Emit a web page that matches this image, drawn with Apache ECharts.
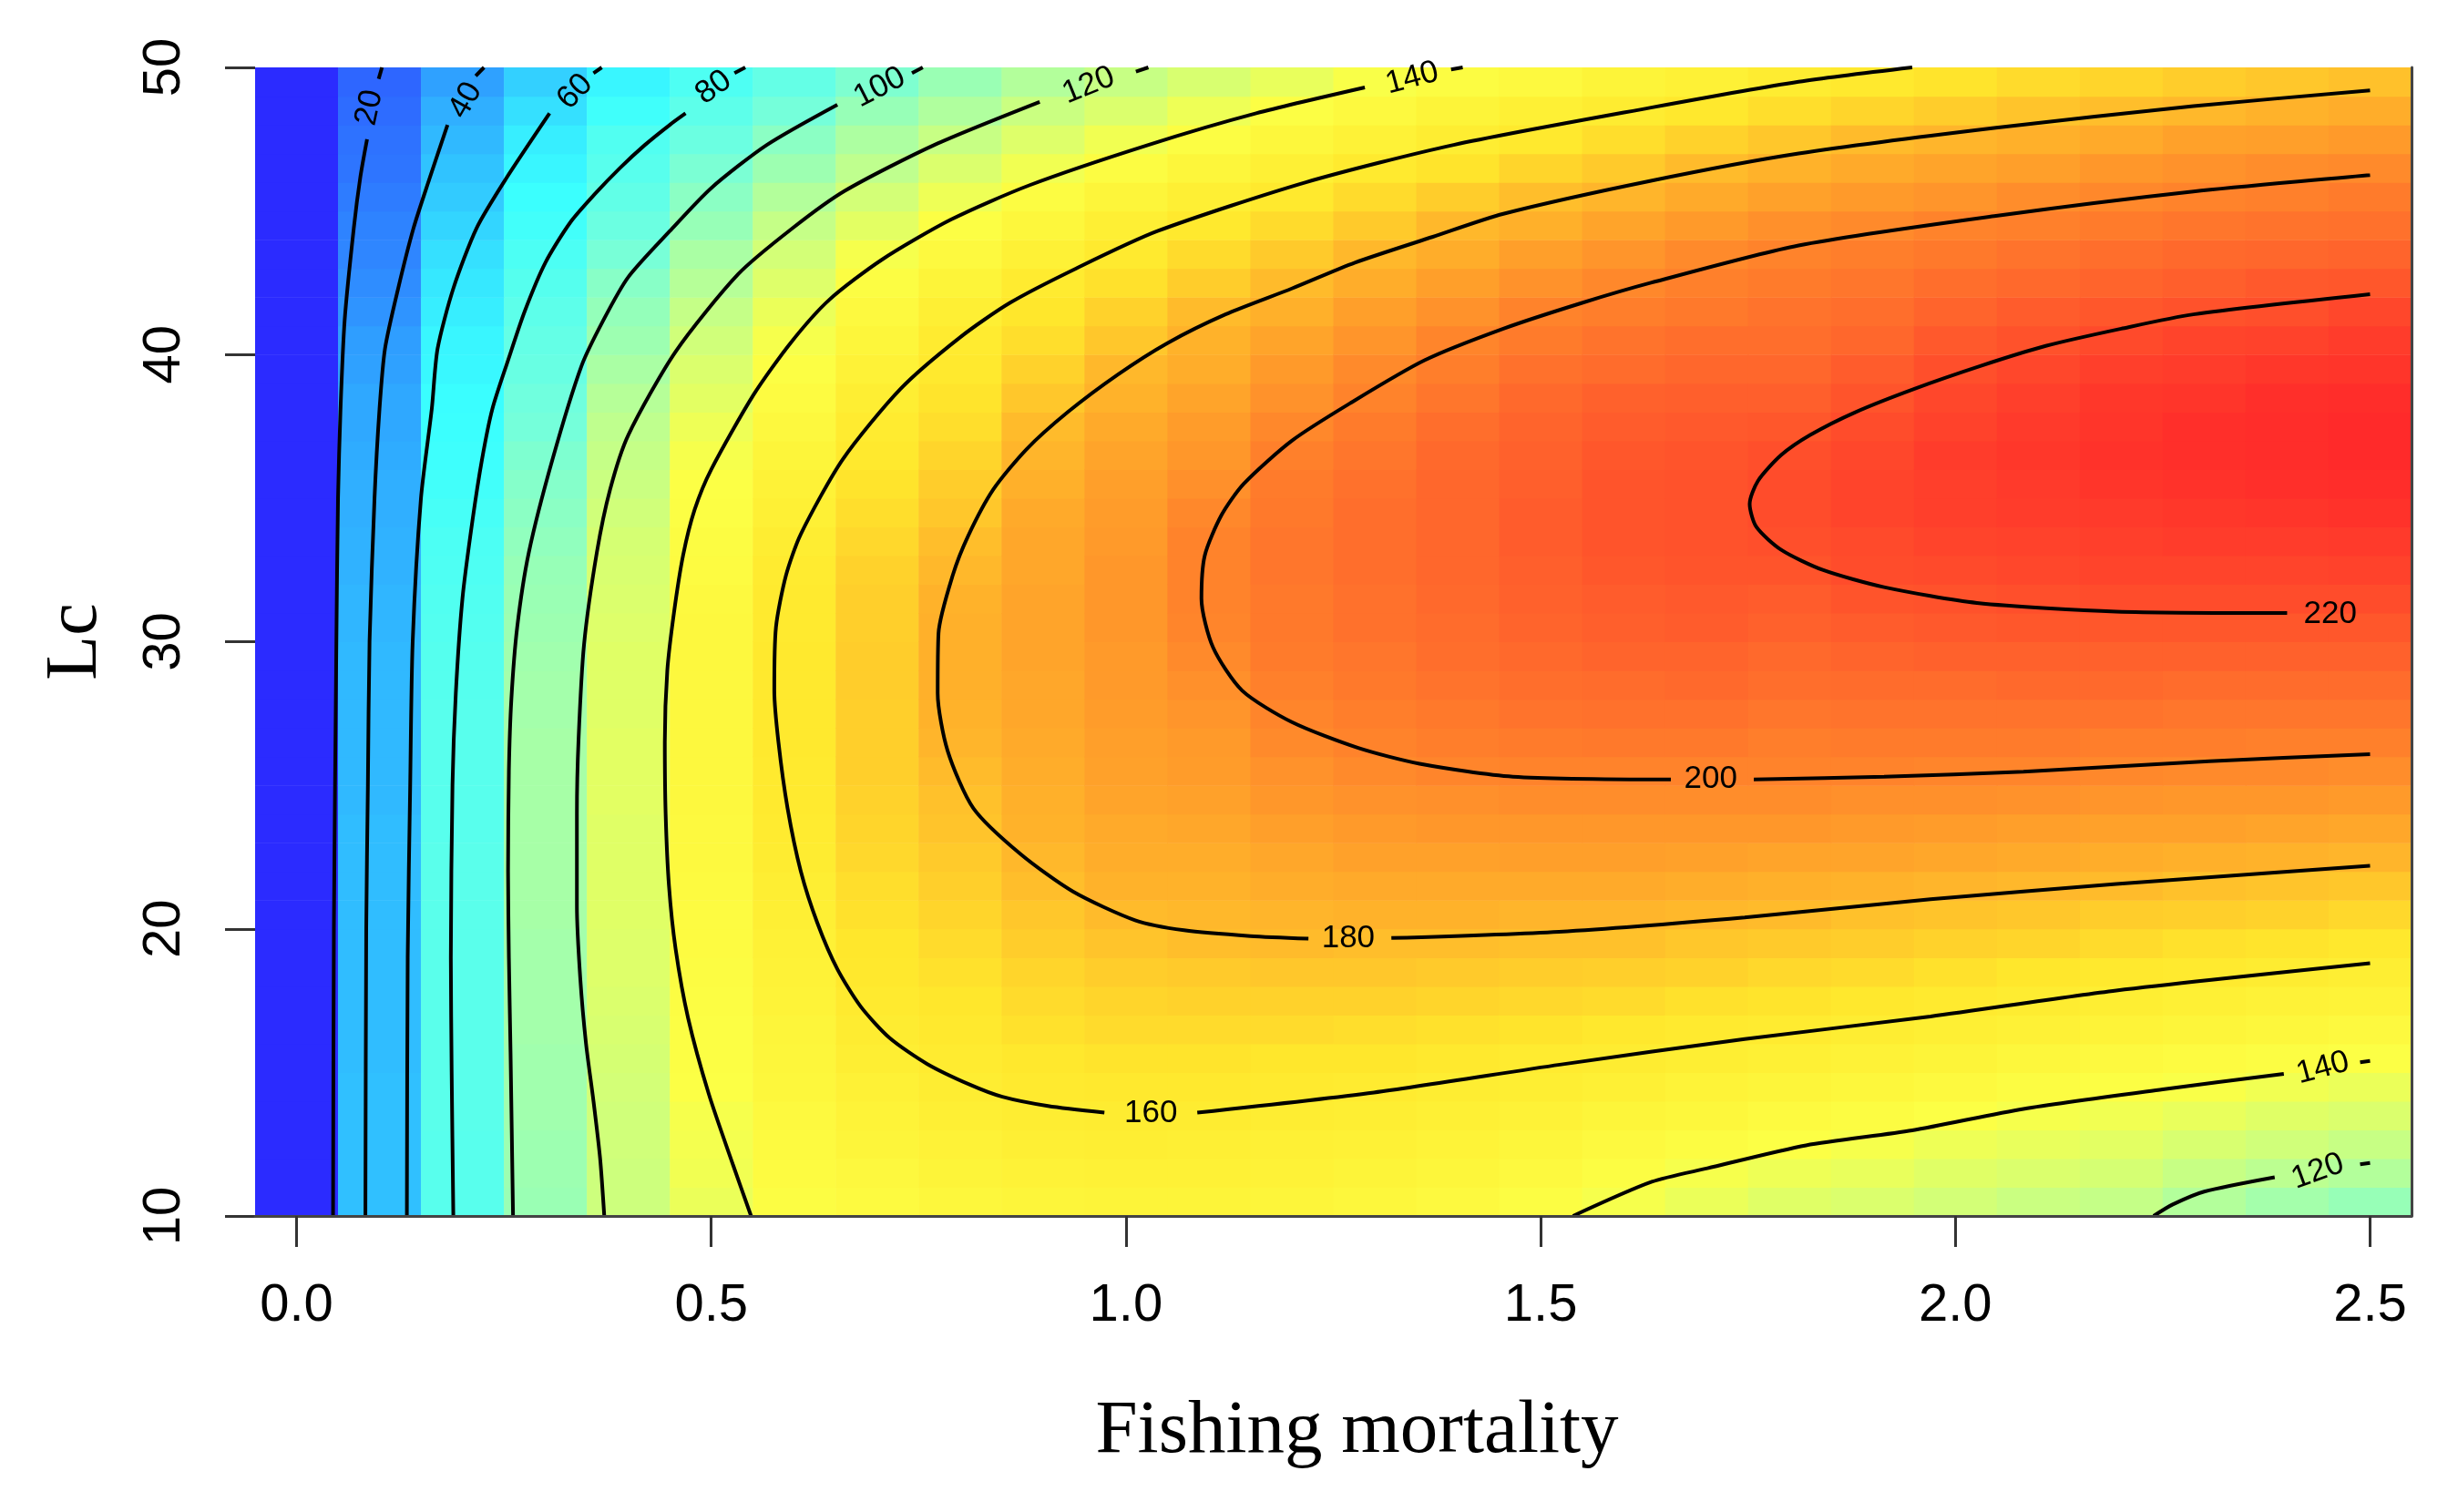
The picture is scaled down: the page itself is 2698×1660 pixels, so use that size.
<!DOCTYPE html>
<html><head><meta charset="utf-8">
<script src="https://cdn.jsdelivr.net/npm/echarts@6/dist/echarts.min.js"></script>
<style>html,body{margin:0;padding:0;background:#fff}#c{width:2698px;height:1660px}</style>
</head><body><div id="c"></div>
<script>
// ---- Data ----
const F_VALUES = [0,0.1,0.2,0.3,0.4,0.5,0.6,0.7,0.8,0.9,1.0,1.1,1.2,1.3,1.4,1.5,1.6,1.7,1.8,1.9,2.0,2.1,2.2,2.3,2.4,2.5];
const LC_ROWS = [10.5,11.5,12.5,13.5,14.5,15.5,16.5,17.5,18.5,19.5,20.5,21.5,22.5,23.5,24.5,25.5,26.5,27.5,28.5,29.5,30.5,31.5,32.5,33.5,34.5,35.5,36.5,37.5,38.5,39.5,40.5,41.5,42.5,43.5,44.5,45.5,46.5,47.5,48.5,49.5];
const X_TICKS = [0,0.5,1.0,1.5,2.0,2.5];

// yield per column (F), rows from Lc 10.5 up to 49.5
const Y00 = [0,0,0,0,0,0,0,0,0,0, 0,0,0,0,0,0,0,0,0,0, 0,0,0,0,0,0,0,0,0,0, 0,0,0,0,0,0,0,0,0,0];
const Y01 = [47,47,47,47,47,46,46,46,46,46, 46,46,46,46,45,45,45,45,45,45, 44,44,43,43,42,42,41,40,40,38, 37,34,32,30,29,27,25,24,22,20];
const Y02 = [83,83,83,84,84,84,84,84,84,84, 84,84,84,83,83,83,83,83,82,82, 81,80,79,78,76,74,72,71,70,68, 67,64,62,59,55,51,48,45,42,38];
const Y03 = [107,108,108,109,109,109,110,110,110,110, 111,111,111,111,111,111,111,110,110,109, 108,107,106,104,102,100,98,95,93,90, 88,85,82,78,74,71,67,64,59,53];
const Y04 = [124,124,125,125,126,127,128,129,130,130, 131,131,131,131,132,132,132,131,131,131, 130,129,128,127,125,123,121,119,116,112, 108,105,101,96,91,87,83,80,73,67];
const Y05 = [135,137,138,139,141,142,142,143,144,145, 145,146,147,147,148,148,148,148,148,148, 148,147,145,144,142,141,139,136,132,129, 125,121,116,112,106,102,97,91,85,79];
const Y06 = [143,145,146,147,149,150,151,153,154,155, 157,158,160,161,162,162,163,163,163,163, 162,162,161,159,156,154,151,148,145,142, 139,135,130,126,121,115,108,102,95,88];
const Y07 = [146,148,151,153,155,158,160,162,164,165, 167,168,170,171,172,173,173,173,174,174, 173,173,172,170,168,166,163,161,158,154, 150,147,143,139,132,126,119,113,106,98];
const Y08 = [149,152,154,157,159,161,163,165,167,169, 171,173,175,177,178,180,182,183,184,184, 184,183,181,179,176,174,171,168,166,163, 161,157,152,147,142,136,129,122,114,107];
const Y09 = [151,154,157,159,162,164,167,169,171,174, 176,179,181,183,184,185,186,187,187,188, 188,188,187,187,186,184,182,180,176,172, 168,165,161,155,149,144,137,130,123,115];
const Y10 = [152,155,158,160,163,166,169,171,174,177, 180,183,185,186,188,189,190,191,192,192, 193,193,193,192,191,190,188,186,183,181, 176,172,167,162,157,151,144,137,129,122];
const Y11 = [152,155,157,160,163,166,169,172,175,179, 181,183,185,187,189,191,192,194,196,198, 200,201,201,201,199,196,193,191,188,185, 183,180,174,169,163,157,150,143,136,128];
const Y12 = [151,154,156,159,162,165,169,172,176,180, 182,185,187,190,193,195,198,200,202,204, 205,205,206,206,205,204,202,199,195,192, 188,184,180,175,169,163,156,149,142,134];
const Y13 = [149,152,155,158,161,165,168,172,176,179, 183,186,189,192,195,198,201,203,205,206, 208,208,209,209,209,208,206,204,201,198, 194,190,185,181,175,169,162,154,147,140];
const Y14 = [147,150,153,156,159,163,167,171,175,179, 183,186,189,193,196,200,203,205,207,209, 210,211,212,212,212,212,211,209,206,203, 200,195,190,185,181,174,166,159,152,144];
const Y15 = [143,147,150,154,158,161,166,170,174,178, 182,186,190,193,197,201,204,207,209,211, 213,214,215,216,216,215,214,213,211,208, 204,201,195,190,184,179,171,163,156,147];
const Y16 = [139,143,147,151,156,160,164,169,173,178, 182,186,190,193,197,201,205,208,210,213, 215,216,218,219,219,219,218,216,214,210, 207,203,199,194,188,182,175,168,160,152];
const Y17 = [135,139,144,149,153,158,162,167,172,176, 181,185,189,193,197,201,205,208,211,213, 216,217,219,220,220,220,219,217,215,212, 209,205,202,198,192,186,180,172,164,155];
const Y18 = [131,136,141,146,151,156,161,166,170,175, 180,184,188,193,197,201,203,206,209,211, 214,216,219,221,222,222,221,218,215,212, 209,207,204,201,196,189,183,176,168,160];
const Y19 = [129,134,139,144,149,154,159,164,169,174, 178,183,188,192,196,201,204,207,210,213, 216,219,222,223,225,225,224,222,219,216, 212,209,206,203,198,192,186,180,171,163];
const Y20 = [126,131,136,141,147,152,157,162,167,172, 177,182,187,191,196,200,204,207,210,214, 217,220,223,225,227,227,228,226,224,221, 217,213,209,205,201,194,188,182,174,166];
const Y21 = [123,129,134,139,144,149,155,160,165,171, 176,181,186,190,195,200,204,207,211,214, 218,221,224,226,228,229,230,229,227,224, 220,216,211,207,202,197,190,184,177,169];
const Y22 = [121,127,132,137,142,147,153,158,163,169, 174,180,185,189,194,199,203,207,211,214, 218,222,225,227,229,231,232,231,230,227, 223,218,213,209,204,199,193,186,179,171];
const Y23 = [115,122,128,134,140,145,151,156,162,167, 173,178,184,189,193,198,203,206,210,214, 218,222,225,228,230,232,233,233,231,228, 225,220,215,211,206,201,195,189,181,174];
const Y24 = [110,118,125,131,137,143,149,154,160,166, 172,177,183,188,193,198,202,206,210,214, 218,222,225,228,231,233,234,234,233,230, 226,221,217,212,207,202,197,190,183,176];
const Y25 = [106,115,122,129,135,141,147,153,158,164, 170,176,182,187,192,197,202,206,210,214, 218,222,226,229,232,234,235,235,234,231, 228,224,218,213,208,204,198,192,185,178];

// contour lines: [F, Lc] points, split where the label sits
const C20 = [[[0.044,10],[0.045,20],[0.048,30],[0.050,35],[0.053,38.1],[0.058,41.2],[0.069,44.4],[0.077,46.2],[0.085,47.5]],
             [[0.099,49.6],[0.103,50]]];
const C40 = [[[0.083,10],[0.084,20],[0.086,25],[0.088,30],[0.094,35],[0.100,38.1],[0.1066,40.2],[0.1225,42.3],[0.141,44.4],[0.160,46.1],[0.182,48.0]],
             [[0.216,49.7],[0.226,50]]];
const C60 = [[[0.133,10],[0.134,19],[0.137,25],[0.140,30],[0.150,35],[0.163,38.1],[0.170,40.2],[0.189,42.3],[0.217,44.4],[0.252,46.1],[0.305,48.4]],
             [[0.358,49.8],[0.368,50]]];
const C80 = [[[0.189,10],[0.187,15],[0.186,19],[0.188,25],[0.192,28.2],[0.200,31.5],[0.212,34.2],[0.2236,36.35],[0.236,38.1],[0.255,39.8],[0.275,41.5],[0.30,43.2],[0.33,44.6],[0.36,45.6],[0.39,46.5],[0.42,47.3],[0.45,48.0],[0.469,48.4]],
             [[0.528,49.8],[0.541,50]]];
const C100 = [[[0.261,10],[0.258,15.7],[0.256,19],[0.255,22],[0.256,25.5],[0.259,28.0],[0.266,30.5],[0.280,33.1],[0.3086,36.35],[0.3435,39.6],[0.37,41.2],[0.40,42.7],[0.45,44.3],[0.50,45.8],[0.567,47.3],[0.652,48.7]],
              [[0.742,49.8],[0.755,50]]];
const C120 = [[[0.371,10],[0.366,12.0],[0.358,14.0],[0.349,16.0],[0.342,18.3],[0.338,20.8],[0.338,24.0],[0.340,26.6],[0.3466,29.9],[0.362,33.1],[0.378,35.3],[0.400,37.2],[0.457,40.1],[0.5325,42.8],[0.598,44.4],[0.661,45.7],[0.769,47.3],[0.896,48.8]],
              [[1.012,49.85],[1.027,50]]];
const C140 = [[[0.548,10],[0.526,11.8],[0.497,14.25],[0.472,16.9],[0.457,19.3],[0.449,21.5],[0.445,24.0],[0.444,26.5],[0.447,29.0],[0.455,31.0],[0.466,33.0],[0.48,34.6],[0.500,36.0],[0.551,38.6],[0.5955,40.4],[0.642,41.9],[0.7055,43.3],[0.789,44.7],[0.884,45.9],[1.027,47.3],[1.157,48.4],[1.288,49.3]],
              [[1.392,49.93],[1.406,50]]];
const C140B = [[[1.539,10],[1.634,11.19],[1.701,11.66],[1.82,12.46],[1.948,12.98],[2.082,13.73],[2.25,14.41],[2.396,14.95]],
               [[2.488,15.35],[2.5,15.4]]];
const C120B = [[[2.239,10],[2.262,10.4],[2.30,10.85],[2.385,11.35]],
               [[2.488,11.8],[2.5,11.85]]];
const C160 = [[[2.5,18.8],[2.194,17.85],[1.97,16.95],[1.746,16.16],[1.523,15.27],[1.299,14.3],[1.086,13.6]],
              [[0.974,13.6],[0.906,13.83],[0.851,14.15],[0.812,14.57],[0.76,15.3],[0.715,16.2],[0.68,17.3],[0.652,18.6],[0.628,20.2],[0.608,22.0],[0.592,24.2],[0.581,26.5],[0.576,28.3],[0.578,30.5],[0.59,32.3],[0.608,33.75],[0.6585,36.35],[0.728,38.8],[0.80,40.6],[0.86,41.8],[0.94,43.0],[1.038,44.3],[1.217,46.0],[1.395,47.3],[1.633,48.6],[1.811,49.5],[1.948,50]]];
const C180 = [[[2.5,22.2],[2.194,21.56],[1.97,21.03],[1.746,20.4],[1.522,19.9],[1.32,19.68]],
              [[1.22,19.66],[1.15,19.75],[1.07,19.95],[1.011,20.3],[0.936,21.3],[0.873,22.6],[0.816,24.2],[0.785,26.2],[0.773,28.2],[0.774,30.3],[0.791,32.3],[0.81,33.7],[0.84,35.3],[0.88,36.7],[0.93,38.0],[0.99,39.3],[1.05,40.4],[1.12,41.4],[1.2,42.3],[1.276,43.2],[1.37,44.1],[1.455,44.9],[1.633,46.05],[1.811,47.0],[2.049,47.9],[2.287,48.65],[2.5,49.2]]];
const C200 = [[[2.5,26.08],[2.306,25.84],[2.082,25.47],[1.914,25.3],[1.757,25.2]],
              [[1.657,25.2],[1.4665,25.3],[1.354,25.75],[1.28,26.3],[1.2,27.2],[1.14,28.3],[1.105,29.8],[1.091,31.5],[1.095,33.0],[1.115,34.4],[1.142,35.5],[1.2,37.0],[1.27,38.3],[1.36,39.8],[1.455,40.9],[1.55,41.8],[1.633,42.5],[1.811,43.8],[2.049,44.83],[2.287,45.68],[2.5,46.25]]];
const C220 = [[[2.40,31.0],[2.194,31.05],[2.026,31.35],[1.914,31.9],[1.84,32.5],[1.79,33.2],[1.76,34.0],[1.752,34.8],[1.762,35.6],[1.79,36.5],[1.825,37.2],[1.88,38.0],[1.95,38.8],[2.03,39.6],[2.109,40.3],[2.2,40.9],[2.287,41.4],[2.5,42.1]]];

// contour labels: [F, Lc, text, angle in degrees]
const CONTOUR_LABELS = [
  [0.088,48.6,'20',78],[0.204,48.85,'40',60],[0.336,49.15,'60',46],[0.503,49.3,'80',36],
  [0.703,49.3,'100',27],[0.955,49.37,'120',22],[1.345,49.62,'140',15],
  [1.03,13.57,'160',0],[1.268,19.65,'180',0],[1.705,25.2,'200',0],[2.452,30.95,'220',0],
  [2.443,15.15,'140',15],[2.437,11.55,'120',20]
];

// ---- build ----
const COLUMNS = [Y00,Y01,Y02,Y03,Y04,Y05,Y06,Y07,Y08,Y09,Y10,Y11,Y12,Y13,Y14,Y15,Y16,Y17,Y18,Y19,Y20,Y21,Y22,Y23,Y24,Y25];
const CONTOURS = [C20,C40,C60,C80,C100,C120,C140,C140B,C120B,C160,C180,C200,C220];
const heat = [];
COLUMNS.forEach((col, i) => col.forEach((v, j) => heat.push([F_VALUES[i], LC_ROWS[j], v])));

const TICK_FONT = '"Liberation Sans Narrow","Arial Narrow","Liberation Sans",Arial,sans-serif';
const series = [{
  type: 'custom',
  data: heat,
  encode: {x: 0, y: 1},
  z: 1,
  renderItem: function (params, api) {
    const f = api.value(0), lc = api.value(1);
    const a = api.coord([f - 0.05, lc + 0.5]);
    const b = api.coord([f + 0.05, lc - 0.5]);
    return {type: 'rect', shape: {x: a[0], y: a[1], width: b[0] - a[0] + 0.6, height: b[1] - a[1] + 0.6},
            style: {fill: api.visual('color')}};
  }
}];
CONTOURS.forEach(c => c.forEach(seg => series.push({
  type: 'line', data: seg, symbol: 'none', smooth: 0.25, z: 3, silent: true,
  lineStyle: {color: '#000', width: 4}
})));
series.push({
  type: 'custom', z: 4, silent: true,
  data: CONTOUR_LABELS.map(l => [l[0], l[1]]),
  encode: {x: 0, y: 1},
  renderItem: function (params, api) {
    const p = api.coord([api.value(0), api.value(1)]);
    const lab = CONTOUR_LABELS[params.dataIndex];
    return {type: 'text', x: p[0], y: p[1], rotation: lab[3] * Math.PI / 180,
            style: {text: lab[2], fill: '#000', font: '35px "Liberation Sans", Arial, sans-serif',
                    align: 'center', verticalAlign: 'middle'}};
  }
});

const chart = echarts.init(document.getElementById('c'), null, {renderer: 'canvas'});
chart.setOption({
  animation: false,
  backgroundColor: '#fff',
  grid: {left: 280, right: 51, top: 74, bottom: 325, containLabel: false},
  visualMap: {
    type: 'continuous', show: false, seriesIndex: 0, dimension: 2, min: 0, max: 235,
    inRange: {color: ['#2B2BFF','#2E70FF','#30C0FF','#3AFFFF','#72FFDD','#BBFF93','#FCFF45','#FFE82C','#FFA42A','#FF682C','#FF2A2A']}
  },
  xAxis: {
    type: 'value', min: -0.05, max: 2.55, z: 10,
    splitLine: {show: false},
    axisLine: {show: true, onZero: false, lineStyle: {color: '#444', width: 3}},
    axisTick: {show: true, customValues: X_TICKS, length: 34, lineStyle: {color: '#333', width: 3}},
    axisLabel: {show: true, customValues: X_TICKS, margin: 70, color: '#000', fontSize: 58, fontFamily: TICK_FONT,
                formatter: v => v.toFixed(1)},
    name: 'Fishing mortality', nameLocation: 'middle', nameGap: 196,
    nameTextStyle: {fontFamily: '"Liberation Serif","Times New Roman",serif', fontSize: 83, color: '#000', padding: [0, 0, 0, 52]}
  },
  yAxis: [{
    type: 'value', min: 10, max: 50, interval: 10,
    splitLine: {show: false},
    axisLine: {show: false, onZero: false},
    axisTick: {show: true, length: 33, lineStyle: {color: '#333', width: 3}},
    axisLabel: {rotate: 90, margin: 70, color: '#000', fontSize: 58, fontFamily: TICK_FONT},
    name: 'Lc', nameLocation: 'middle', nameGap: 156, nameRotate: 90,
    nameTextStyle: {fontFamily: '"Liberation Serif","Times New Roman",serif', fontSize: 80, color: '#000'}
  }, {
    type: 'value', min: 10, max: 50, position: 'right', z: 10,
    splitLine: {show: false}, axisTick: {show: false}, axisLabel: {show: false},
    axisLine: {show: true, onZero: false, lineStyle: {color: '#444', width: 3}}
  }],
  series: series
});
</script></body></html>
